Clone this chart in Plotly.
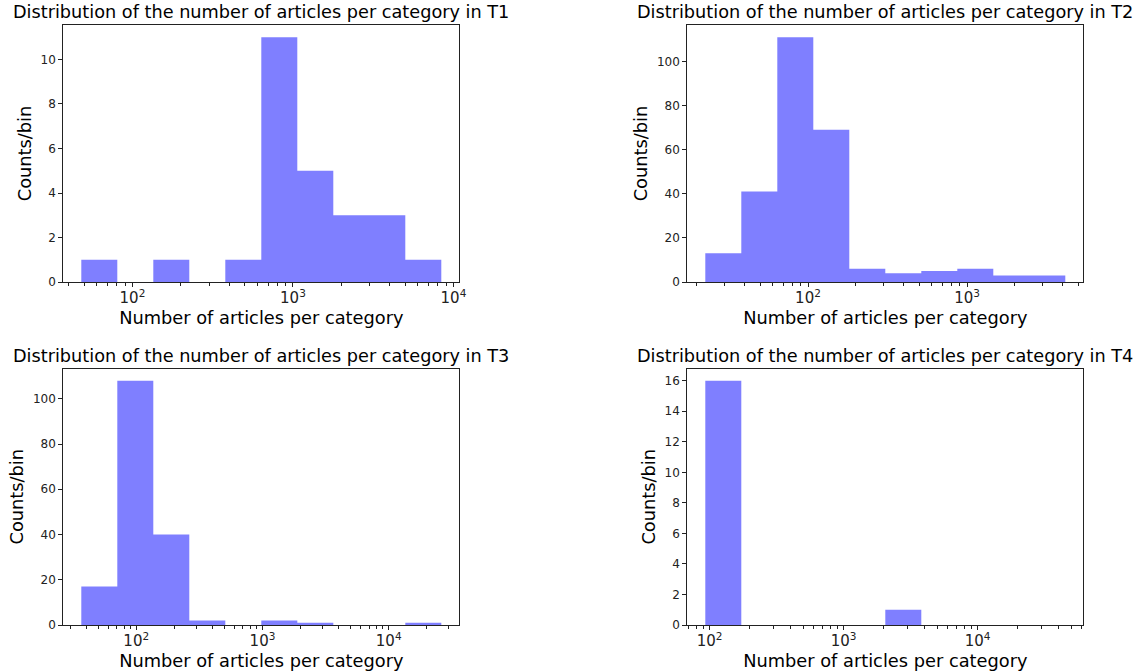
import numpy as np
import plotly.graph_objects as go

# ---- data ----
titles = ["Distribution of the number of articles per category in T1",
          "Distribution of the number of articles per category in T2",
          "Distribution of the number of articles per category in T3",
          "Distribution of the number of articles per category in T4"]

# bin range (min, max of data) per panel, 10 log-spaced bins each
t1_range = [48, 8400]
t2_range = [22.6, 4150]
t3_range = [36.7, 26100]
t4_range = [92.9, 45100]

t1_counts = [1, 0, 1, 0, 1, 11, 5, 3, 3, 1]
t2_counts = [13, 41, 111, 69, 6, 4, 5, 6, 3, 3]
t3_counts = [17, 108, 40, 2, 0, 2, 1, 0, 0, 1]
t4_counts = [16, 0, 0, 0, 0, 1, 0, 0, 0, 0]

y_dticks = [2, 20, 20, 2]

x_label = "Number of articles per category"
y_label = "Counts/bin"

ranges = [t1_range, t2_range, t3_range, t4_range]
counts = [t1_counts, t2_counts, t3_counts, t4_counts]

W, H = 1142, 672
# axes boxes in pixels: (left, right, top, bottom)
boxes = [(63.3, 459.3, 25, 282), (687.3, 1083.3, 25, 282),
         (63.3, 459.3, 368.5, 625), (687.3, 1083.3, 368.5, 625)]

fig = go.Figure()
FONT = "DejaVu Sans"

for i in range(4):
    lo, hi = ranges[i]
    edges = np.logspace(np.log10(lo), np.log10(hi), len(counts[i]) + 1)
    # closed step polygon of the histogram
    px, py = [edges[0]], [0]
    for k, c in enumerate(counts[i]):
        px += [edges[k], edges[k + 1]]
        py += [c, c]
    px += [edges[-1]]
    py += [0]
    n = "" if i == 0 else str(i + 1)
    fig.add_trace(go.Scatter(x=px, y=py, mode="lines", fill="toself",
                             fillcolor="rgba(0,0,255,0.5)", line=dict(width=0),
                             hoverinfo="skip", showlegend=False,
                             xaxis="x" + n, yaxis="y" + n))
    l, r, t, b = boxes[i]
    lg_lo, lg_hi = np.log10(lo), np.log10(hi)
    m = 0.05 * (lg_hi - lg_lo)
    ymax = max(counts[i]) * 1.05
    common = dict(showline=True, mirror=True, linecolor="#222", linewidth=1,
                  showgrid=False, zeroline=False, ticks="outside", ticklen=4,
                  automargin=False,
                  tickcolor="#222", tickfont=dict(family=FONT, size=12, color="#222"),
                  title_font=dict(family=FONT, size=17.8, color="black"))
    fig.layout["xaxis" + n] = dict(
        common, type="log", range=[lg_lo - m, lg_hi + m], dtick=1,
        exponentformat="power", showexponent="all", ticklabelstandoff=-1,
        domain=[l / W, r / W], anchor="y" + n,
        minor=dict(ticks="outside", ticklen=2.5, tickcolor="#222", dtick="D1",
                   showgrid=False),
        title=dict(text=x_label, standoff=0))
    fig.layout["yaxis" + n] = dict(
        common, range=[0, ymax], dtick=y_dticks[i],
        domain=[1 - b / H, 1 - t / H], anchor="x" + n,
        title=dict(text=y_label, standoff=4))
    fig.add_annotation(text=titles[i], x=(l + r) / 2 / W, y=1 - t / H,
                       xref="paper", yref="paper", xanchor="center", yanchor="bottom",
                       yshift=1, showarrow=False,
                       font=dict(family=FONT, size=17.7, color="black"))

fig.update_layout(width=W, height=H, margin=dict(l=0, r=0, t=0, b=0),
                  plot_bgcolor="white", paper_bgcolor="white",
                  font=dict(family=FONT))

fig.write_html("out.html", config={"displayModeBar": False},
               post_script="document.body.style.margin='0';")
